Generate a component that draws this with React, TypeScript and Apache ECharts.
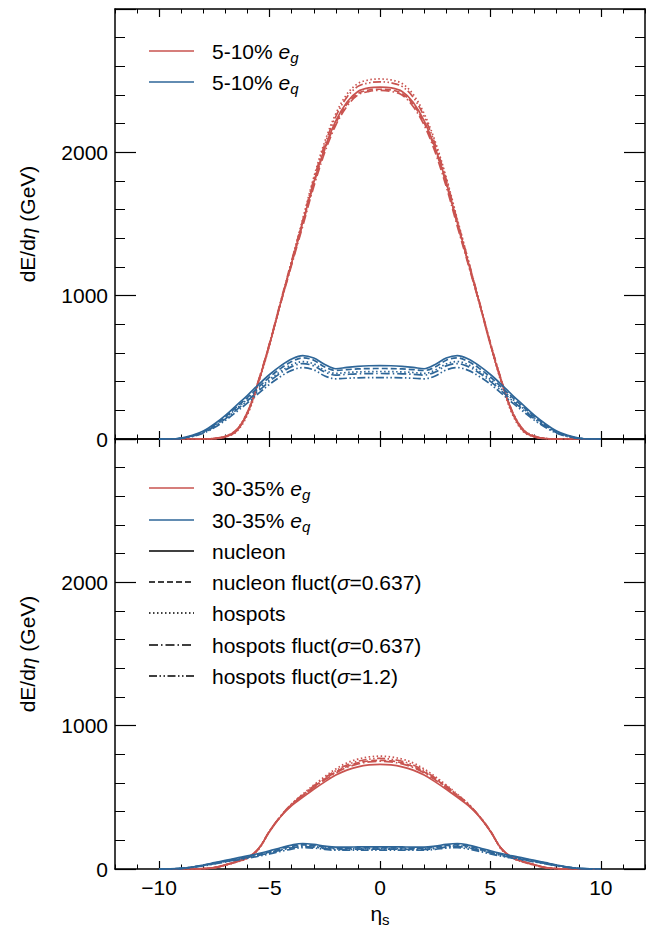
import React, { useEffect, useRef } from "react";
import * as echarts from "echarts";

const eta = [-10, -9.5, -9, -8.5, -8, -7.5, -7, -6.5, -6, -5.5, -5, -4.5, -4, -3.5, -3, -2.5, -2, -1.5, -1, -0.5, 0, 0.5, 1, 1.5, 2, 2.5, 3, 3.5, 4, 4.5, 5, 5.5, 6, 6.5, 7, 7.5, 8, 8.5, 9, 9.5, 10];

// top panel: 5-10% centrality
const topRedNucleon = [0,0,0,0,0,2,15,55,180,400,660,950,1230,1510,1790,2030,2220,2350,2425,2450,2455,2450,2425,2350,2220,2030,1790,1510,1230,950,660,400,180,55,15,2,0,0,0,0,0];
const topRedNucleonFluct = [0,0,0,0,0,3,18,60,185,405,665,950,1225,1500,1780,2020,2205,2335,2410,2435,2440,2435,2410,2335,2205,2020,1780,1500,1225,950,665,405,185,60,18,3,0,0,0,0,0];
const topRedHotspots = [0,0,0,0,0,2,14,50,170,390,655,950,1245,1535,1825,2075,2270,2405,2480,2505,2512,2505,2480,2405,2270,2075,1825,1535,1245,950,655,390,170,50,14,2,0,0,0,0,0];
const topRedHotspotsFluct = [0,0,0,0,0,3,18,62,188,408,665,945,1215,1485,1760,2000,2190,2320,2400,2425,2432,2425,2400,2320,2190,2000,1760,1485,1215,945,665,408,188,62,18,3,0,0,0,0,0];
const topRedHotspotsFluct12 = [0,0,0,0,0,4,20,65,190,410,670,960,1245,1525,1810,2055,2250,2385,2460,2485,2492,2485,2460,2385,2250,2055,1810,1525,1245,960,670,410,190,65,20,4,0,0,0,0,0];

const topBlueNucleon = [0,0,6,25,56,105,165,235,305,380,450,510,558,582,565,520,490,500,507,511,512,511,507,500,490,520,565,582,558,510,450,380,305,235,165,105,56,25,6,0,0];
const topBlueNucleonFluct = [0,0,5,22,50,97,155,222,290,362,432,492,540,566,550,502,478,484,489,491,492,491,489,484,478,502,550,566,540,492,432,362,290,222,155,97,50,22,5,0,0];
const topBlueHotspots = [0,0,5,21,47,92,147,212,278,348,415,472,518,540,524,480,458,464,468,470,471,470,468,464,458,480,524,540,518,472,415,348,278,212,147,92,47,21,5,0,0];
const topBlueHotspotsFluct = [0,0,4,19,44,87,140,203,267,335,402,460,505,526,510,467,446,451,455,456,457,456,455,451,446,467,510,526,505,460,402,335,267,203,140,87,44,19,4,0,0];
const topBlueHotspotsFluct12 = [0,0,4,17,40,80,130,190,252,318,382,436,479,498,482,440,420,424,427,428,429,428,427,424,420,440,482,498,479,436,382,318,252,190,130,80,40,17,4,0,0];

// bottom panel: 30-35% centrality
const botRedNucleon = [0,0,0,0,2,10,30,52,80,142,262,365,442,500,556,608,655,690,713,726,730,726,713,690,655,608,556,500,442,365,262,142,80,52,30,10,2,0,0,0,0];
const botRedNucleonFluct = [0,0,0,0,2,9,28,50,78,140,265,367,450,512,572,628,677,715,740,754,758,754,740,715,677,628,572,512,450,367,265,140,78,50,28,9,2,0,0,0,0];
const botRedHotspots = [0,0,0,0,2,8,26,48,75,137,262,367,454,522,586,645,698,740,767,782,787,782,767,740,698,645,586,522,454,367,262,137,75,48,26,8,2,0,0,0,0];
const botRedHotspotsFluct = [0,0,0,0,2,10,29,51,79,142,265,367,448,510,568,622,670,708,733,747,752,747,733,708,670,622,568,510,448,367,265,142,79,51,29,10,2,0,0,0,0];
const botRedHotspotsFluct12 = [0,0,0,0,2,9,28,50,78,140,265,369,454,518,580,636,686,726,752,766,772,766,752,726,686,636,580,518,454,369,265,140,78,50,28,9,2,0,0,0,0];

const botBlueNucleon = [0,1,5,14,28,44,60,76,91,108,127,148,167,178,172,160,153,153,154,155,155,155,154,153,153,160,172,178,167,148,127,108,91,76,60,44,28,14,5,1,0];
const botBlueNucleonFluct = [0,1,4,13,26,41,56,71,86,102,120,140,158,169,164,153,146,146,147,148,148,148,147,146,146,153,164,169,158,140,120,102,86,71,56,41,26,13,4,1,0];
const botBlueHotspots = [0,1,4,12,25,39,53,68,82,97,115,134,151,161,157,147,141,141,141,142,142,142,141,141,141,147,157,161,151,134,115,97,82,68,53,39,25,12,4,1,0];
const botBlueHotspotsFluct = [0,1,4,12,24,38,52,66,80,95,112,131,147,157,153,143,137,137,138,138,138,138,138,137,137,143,153,157,147,131,112,95,80,66,52,38,24,12,4,1,0];
const botBlueHotspotsFluct12 = [0,1,3,11,22,35,49,62,75,89,105,123,139,149,146,137,131,131,132,132,132,132,132,131,131,137,146,149,139,123,105,89,75,62,49,35,22,11,3,1,0];

const xMajorTicks = [-10, -5, 0, 5, 10];
const styleNames = ["nucleon", "nucleon fluct(σ=0.637)", "hospots", "hospots fluct(σ=0.637)", "hospots fluct(σ=1.2)"];

const RED = "#c9534f";
const BLUE = "#2e6698";
const FONT = "'Liberation Sans', Arial, Helvetica, sans-serif";
const DASHES: any[] = ["solid", [6, 3], [1.5, 2.5], [9, 3, 1.5, 3], [8, 2.5, 1.5, 2.5, 1.5, 2.5]];

const GRID_LEFT = 115;
const GRID_W = 530;
const GRID_H = 430;
const TOP1 = 9;
const TOP2 = 439;

function xAxes(gridIndex: number, position: "top" | "bottom", labels: boolean) {
  const major: any = {
    type: "value", gridIndex, position, min: -12, max: 12,
    axisLine: { show: true, onZero: false, lineStyle: { color: "#000", width: 1.5 } },
    axisTick: { show: true, inside: true, length: 8, customValues: xMajorTicks, lineStyle: { color: "#000", width: 1.2 } },
    axisLabel: {
      show: labels, customValues: xMajorTicks, margin: 8, fontSize: 21, color: "#000", fontFamily: FONT,
      formatter: (v: number) => String(v).replace("-", "\u2212"),
    },
    splitLine: { show: false },
  };
  if (labels) {
    major.name = "{a|η}{s|s}";
    major.nameLocation = "middle";
    major.nameGap = 30;
    major.nameTextStyle = {
      color: "#000", fontFamily: FONT,
      rich: {
        a: { fontSize: 21, fontFamily: FONT, color: "#000", lineHeight: 28 },
        s: { fontSize: 15, fontFamily: FONT, color: "#000", lineHeight: 15, verticalAlign: "bottom" },
      },
    };
  }
  const minor: any = {
    type: "value", gridIndex, position, min: -12, max: 12, interval: 1,
    axisLine: { show: false, onZero: false },
    axisTick: { show: true, inside: true, length: 4.5, lineStyle: { color: "#000", width: 1 } },
    axisLabel: { show: false },
    splitLine: { show: false },
  };
  return [major, minor];
}

function yAxis(gridIndex: number, position: "left" | "right", labels: boolean) {
  const ax: any = {
    type: "value", gridIndex, position, min: 0, max: 3000, interval: 1000,
    axisLine: { show: true, onZero: false, lineStyle: { color: "#000", width: 1.5 } },
    axisTick: { show: true, inside: true, length: 21, lineStyle: { color: "#000", width: 1.2 } },
    minorTick: { show: true, splitNumber: 5, length: 10, lineStyle: { color: "#000", width: 1 } },
    axisLabel: {
      show: labels, showMaxLabel: false, margin: 7, fontSize: 21, color: "#000", fontFamily: FONT,
      formatter: (v: number) => (v >= 3000 ? "" : String(v)),
    },
    splitLine: { show: false },
    minorSplitLine: { show: false },
  };
  if (labels) {
    ax.name = "{a|dE/d}{b|η}{a| (GeV)}";
    ax.nameLocation = "middle";
    ax.nameGap = 77;
    ax.nameTextStyle = {
      color: "#000", fontFamily: FONT,
      rich: {
        a: { fontSize: 21, fontFamily: FONT, color: "#000" },
        b: { fontSize: 21, fontFamily: FONT, color: "#000", fontStyle: "italic" },
      },
    };
  }
  return ax;
}

function mkSeries(name: string, arr: number[], color: string, dashIdx: number, xIdx: number, yIdx: number) {
  return {
    name, type: "line", xAxisIndex: xIdx, yAxisIndex: yIdx,
    data: eta.map((x, i) => [x, arr[i]]),
    smooth: 0.35, symbol: "none", showSymbol: false, silent: true,
    lineStyle: { color, width: 1.7, type: DASHES[dashIdx] },
  };
}

const legendRich = {
  n: { fontSize: 21, fontFamily: FONT, fill: "#000", lineHeight: 28 },
  i: { fontSize: 21, fontFamily: FONT, fill: "#000", fontStyle: "italic", lineHeight: 28 },
  s: { fontSize: 15, fontFamily: FONT, fill: "#000", fontStyle: "italic", lineHeight: 15, verticalAlign: "bottom" },
};

function legendRow(y: number, text: string, color: string, dash: any) {
  const LX1 = 149, LX2 = 194, TX = 212;
  return [
    {
      type: "line", silent: true,
      shape: { x1: LX1, y1: y, x2: LX2, y2: y },
      style: { stroke: color, lineWidth: 1.7, lineDash: dash === "solid" ? null : dash },
    },
    {
      type: "text", silent: true, x: TX, y,
      style: { text, rich: legendRich, verticalAlign: "middle", align: "left", fill: "#000", fontSize: 21, fontFamily: FONT },
    },
  ];
}

export default function App() {
  const ref = useRef<HTMLDivElement>(null);
  useEffect(() => {
    document.body.style.margin = "0";
    if (!ref.current) return;
    const chart = echarts.init(ref.current, undefined, { renderer: "svg" });

    const series: any[] = [];
    const topRed = [topRedNucleon, topRedNucleonFluct, topRedHotspots, topRedHotspotsFluct, topRedHotspotsFluct12];
    const topBlue = [topBlueNucleon, topBlueNucleonFluct, topBlueHotspots, topBlueHotspotsFluct, topBlueHotspotsFluct12];
    const botRed = [botRedNucleon, botRedNucleonFluct, botRedHotspots, botRedHotspotsFluct, botRedHotspotsFluct12];
    const botBlue = [botBlueNucleon, botBlueNucleonFluct, botBlueHotspots, botBlueHotspotsFluct, botBlueHotspotsFluct12];
    for (let k = 0; k < 5; k++) series.push(mkSeries("5-10% e_g " + styleNames[k], topRed[k], RED, k, 0, 0));
    for (let k = 0; k < 5; k++) series.push(mkSeries("5-10% e_q " + styleNames[k], topBlue[k], BLUE, k, 0, 0));
    for (let k = 0; k < 5; k++) series.push(mkSeries("30-35% e_g " + styleNames[k], botRed[k], RED, k, 4, 2));
    for (let k = 0; k < 5; k++) series.push(mkSeries("30-35% e_q " + styleNames[k], botBlue[k], BLUE, k, 4, 2));

    const graphics: any[] = [
      ...legendRow(51, "{n|5-10% }{i|e}{s|g}", RED, "solid"),
      ...legendRow(82, "{n|5-10% }{i|e}{s|q}", BLUE, "solid"),
      ...legendRow(488, "{n|30-35% }{i|e}{s|g}", RED, "solid"),
      ...legendRow(520, "{n|30-35% }{i|e}{s|q}", BLUE, "solid"),
      ...legendRow(551, "{n|nucleon}", "#000", DASHES[0]),
      ...legendRow(582, "{n|nucleon fluct(}{i|σ}{n|=0.637)}", "#000", DASHES[1]),
      ...legendRow(613, "{n|hospots}", "#000", DASHES[2]),
      ...legendRow(645, "{n|hospots fluct(}{i|σ}{n|=0.637)}", "#000", DASHES[3]),
      ...legendRow(676, "{n|hospots fluct(}{i|σ}{n|=1.2)}", "#000", DASHES[4]),
    ];

    chart.setOption({
      animation: false,
      backgroundColor: "#fff",
      textStyle: { fontFamily: FONT },
      grid: [
        { left: GRID_LEFT, top: TOP1, width: GRID_W, height: GRID_H },
        { left: GRID_LEFT, top: TOP2, width: GRID_W, height: GRID_H },
      ],
      xAxis: [
        ...xAxes(0, "bottom", false),
        ...xAxes(0, "top", false),
        ...xAxes(1, "bottom", true),
        ...xAxes(1, "top", false),
      ],
      yAxis: [
        yAxis(0, "left", true),
        yAxis(0, "right", false),
        yAxis(1, "left", true),
        yAxis(1, "right", false),
      ],
      series,
      graphic: graphics,
    });
    return () => chart.dispose();
  }, []);
  return <div ref={ref} style={{ width: 662, height: 940 }} />;
}
